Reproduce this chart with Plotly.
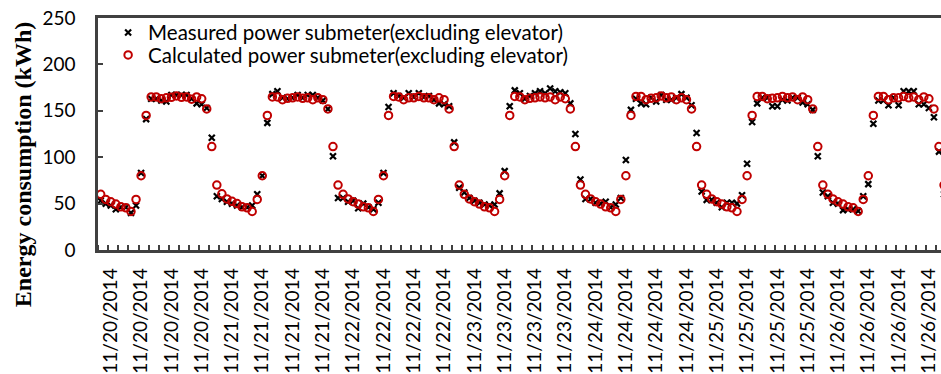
import plotly.graph_objects as go

# Hourly data, 11/20/2014 00:00 .. 11/26/2014 23:00 (168 points)
measured_day1 = [53, 50, 48, 44, 46, 46, 40, 48, 83, 141, 163, 163, 161, 160, 167, 167, 167, 167, 163, 158, 157, 153, 121, 58]
measured_day2 = [55, 52, 50, 48, 46, 46, 48, 60, 80, 137, 168, 171, 164, 163, 164, 167, 164, 167, 167, 164, 161, 152, 101, 56]
measured_day3 = [56, 52, 53, 45, 50, 46, 44, 51, 83, 154, 169, 166, 164, 169, 165, 169, 165, 166, 162, 158, 157, 155, 116, 67]
measured_day4 = [62, 56, 53, 51, 49, 48, 49, 61, 85, 155, 172, 169, 163, 166, 169, 171, 169, 174, 171, 170, 169, 158, 125, 76]
measured_day5 = [55, 55, 51, 50, 52, 46, 49, 56, 97, 151, 163, 158, 157, 164, 160, 167, 162, 162, 164, 168, 164, 156, 126, 63]
measured_day6 = [54, 54, 51, 46, 51, 51, 50, 59, 93, 138, 158, 164, 164, 155, 155, 162, 161, 164, 164, 159, 157, 151, 101, 62]
measured_day7 = [58, 51, 50, 43, 44, 44, 42, 58, 71, 136, 161, 161, 156, 164, 156, 171, 171, 171, 157, 157, 153, 143, 106, 60]

calculated_day1 = [60, 54.5, 52, 49.5, 46.5, 45.5, 41.5, 54.5, 80, 145, 165, 165, 163, 164, 164.5, 166, 164.5, 165, 162.5, 165, 163, 152, 111.5, 70]
calculated_day2 = [60.5, 55, 52.5, 50, 46.5, 45.5, 41.5, 54.5, 80, 145, 165, 165, 162, 163.5, 164, 165, 163.5, 164, 162, 164, 162, 152, 111.5, 70]
calculated_day3 = [60, 55, 52, 49.5, 46.5, 45.5, 41.5, 54.5, 80, 145, 165.5, 165, 162, 164, 164, 165.5, 164, 164, 162, 164, 162, 152, 111.5, 70]
calculated_day4 = [60, 55, 52, 49.5, 46.5, 45.5, 41.5, 54.5, 80, 145, 165.5, 165, 162, 163.5, 164, 165, 164, 165, 162, 165, 163, 152, 111.5, 70]
calculated_day5 = [60, 55, 52, 49.5, 46.5, 45.5, 41.5, 54.5, 80, 145, 165.5, 165.5, 162, 163.5, 164, 166, 164, 165, 162, 164, 162, 152, 111.5, 70]
calculated_day6 = [60, 55, 52, 49.5, 46.5, 45.5, 41.5, 54.5, 80, 145, 165.5, 165.5, 163, 163.5, 164, 165.5, 164, 165, 162, 165, 162, 152, 111.5, 70]
calculated_day7 = [60, 55, 52, 49.5, 46.5, 45.5, 41.5, 54.5, 80, 145, 165.5, 165.5, 162, 164, 164, 165.5, 164, 165, 162, 165, 163, 152, 111.5, 70]

tick_labels = (["11/20/2014"] * 4 + ["11/21/2014"] * 4 + ["11/22/2014"] * 4 + ["11/23/2014"] * 4
               + ["11/24/2014"] * 4 + ["11/25/2014"] * 4 + ["11/26/2014"] * 4)

measured = (measured_day1 + measured_day2 + measured_day3 + measured_day4
            + measured_day5 + measured_day6 + measured_day7)
calculated = (calculated_day1 + calculated_day2 + calculated_day3 + calculated_day4
              + calculated_day5 + calculated_day6 + calculated_day7)
hours = list(range(len(measured)))

label_pos = [2 + 6 * k for k in range(len(tick_labels))]
minor_pos = [-0.5 + 2 * k for k in range(86)]

axis_color = "#404040"
tick_font = dict(family="Lato", size=19, color="black")
legend_font = dict(family="Lato", size=20.5, color="black")

fig = go.Figure()
fig.add_trace(go.Scatter(
    x=hours, y=measured, mode="markers",
    name="Measured power submeter(excluding elevator)",
    marker=dict(symbol="x-thin", size=6, color="black",
                line=dict(color="black", width=2.2)),
    legend="legend",
))
fig.add_trace(go.Scatter(
    x=hours, y=calculated, mode="markers",
    name="Calculated power submeter(excluding elevator)",
    marker=dict(symbol="circle-open", size=7.5, color="#C00000",
                line=dict(color="#C00000", width=2)),
    legend="legend2",
))

fig.update_layout(
    width=941, height=374,
    margin=dict(l=98, r=0, t=18, b=119),
    paper_bgcolor="white", plot_bgcolor="white",
    showlegend=True,
    legend=dict(x=0.012, y=0.937, xanchor="left", yanchor="middle",
                font=legend_font, bgcolor="rgba(0,0,0,0)"),
    legend2=dict(x=0.012, y=0.840, xanchor="left", yanchor="middle",
                 font=legend_font, bgcolor="rgba(0,0,0,0)"),
    xaxis=dict(
        range=[-0.53, 166.4],
        tickmode="array", tickvals=label_pos, ticktext=tick_labels,
        tickangle=-90, ticks="", tickfont=tick_font,
        ticklabelstandoff=8,
        showline=True, linecolor=axis_color, linewidth=2.5, mirror=True,
        showgrid=False, zeroline=False,
        minor=dict(tickmode="array", tickvals=minor_pos, ticks="inside",
                   ticklen=5, tickwidth=2, tickcolor=axis_color, showgrid=False),
    ),
    yaxis=dict(
        range=[0, 250], tickmode="array", tickvals=[0, 50, 100, 150, 200, 250],
        ticks="inside", ticklen=5, tickwidth=2, tickcolor=axis_color,
        tickfont=tick_font, ticklabelstandoff=16,
        showline=True, linecolor=axis_color, linewidth=2.5,
        showgrid=False, zeroline=False,
    ),
    annotations=[dict(
        text="<b>Energy consumption (kWh)</b>", textangle=-90,
        xref="paper", yref="paper", x=-0.089, y=0.37,
        xanchor="center", yanchor="middle", showarrow=False,
        font=dict(family="Liberation Serif", size=24, color="black"),
    )],
)

fig.write_html("out.html")
